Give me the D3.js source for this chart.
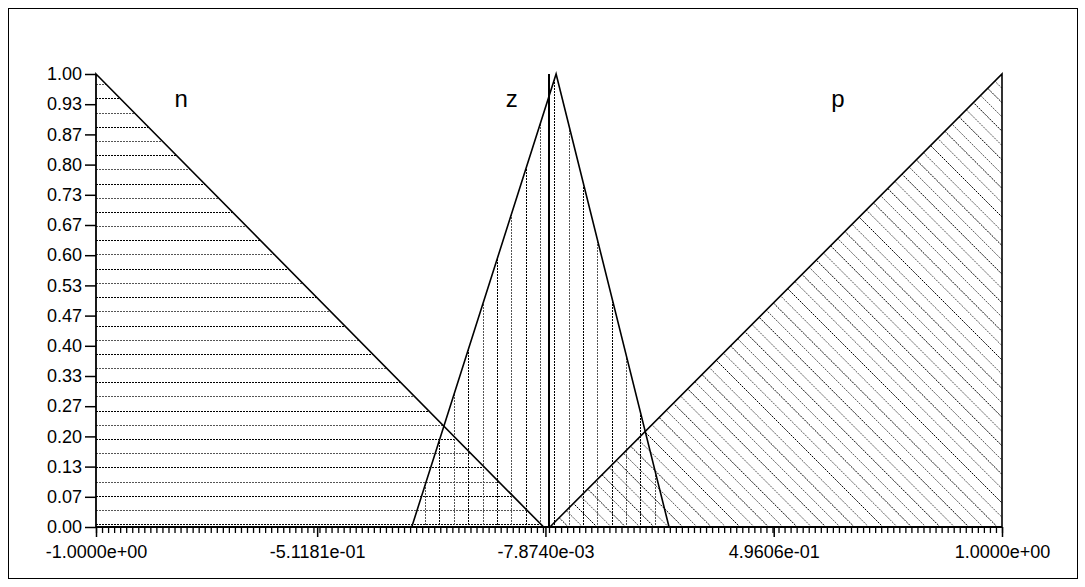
<!DOCTYPE html>
<html>
<head>
<meta charset="utf-8">
<script src="https://cdn.jsdelivr.net/npm/d3@7"></script>
<style>
  body { margin: 0; background: #fff; }
  svg { display: block; }
  text { font-family: "Liberation Sans", Arial, sans-serif; fill: #000; }
</style>
</head>
<body>
<svg id="chart" width="1085" height="587"></svg>
<script>
// membership functions (x, degree)
var nPoints = [[-1, 1], [-0.012, 0]];
var zPoints = [[-0.303, 0], [0.0157, 1], [0.265, 0]];
var pPoints = [[0.002, 0], [1, 1]];
var setNames = ['n', 'z', 'p'];
var setLabelX = [-0.812, -0.082, 0.638];
var setLabelY = 0.927;
var inputValue = 0;

var xTickValues = [-1, -0.51181, -0.007874, 0.49606, 1];
var xTickLabels = ['-1.0000e+00', '-5.1181e-01', '-7.8740e-03', '4.9606e-01', '1.0000e+00'];
var yTickValues = d3.range(0, 16).map(function(i){ return i / 15; });
var yTickLabels = ['0.00','0.07','0.13','0.20','0.27','0.33','0.40','0.47','0.53','0.60','0.67','0.73','0.80','0.87','0.93','1.00'];

var svg = d3.select('#chart');

var x = d3.scaleLinear().domain([-1, 1]).range([96, 1002]);
var y = d3.scaleLinear().domain([0, 1]).range([527, 74]);

// outer frame
svg.append('rect')
    .attr('x', 8.5).attr('y', 8.5)
    .attr('width', 1069).attr('height', 570)
    .attr('fill', 'none').attr('stroke', '#000');

var area = d3.area()
    .x(function(d){ return x(d[0]); })
    .y0(y(0))
    .y1(function(d){ return y(d[1]); });

var shapes = [nPoints, zPoints, pPoints];
var defs = svg.append('defs');
shapes.forEach(function(pts, i){
  defs.append('clipPath').attr('id', 'clip-' + setNames[i])
    .append('path').attr('d', area(pts));
});

function hatchLine(sel){
  sel.attr('fill', 'none')
    .attr('stroke', function(d, i){ return i % 2 ? '#555' : '#000'; })
    .attr('stroke-width', 1)
    .attr('stroke-dasharray', '2,1');
}

// n: horizontal hatch
var gn = svg.append('g').attr('clip-path', 'url(#clip-n)');
gn.selectAll('line').data(d3.range(0, 33)).enter().append('line')
    .attr('x1', 96).attr('x2', 1002)
    .attr('y1', function(k){ return Math.round(524.3 - k * 14.2) + 0.5; })
    .attr('y2', function(k){ return Math.round(524.3 - k * 14.2) + 0.5; })
    .call(hatchLine);

// z: vertical hatch
var gz = svg.append('g').attr('clip-path', 'url(#clip-z)');
gz.selectAll('line').data(d3.range(-12, 13)).enter().append('line')
    .attr('x1', function(k){ return Math.round(554.3 + k * 14.35) + 0.5; })
    .attr('x2', function(k){ return Math.round(554.3 + k * 14.35) + 0.5; })
    .attr('y1', 70).attr('y2', 530)
    .call(hatchLine);

// p: diagonal hatch
var gp = svg.append('g').attr('clip-path', 'url(#clip-p)');
gp.selectAll('line').data(d3.range(-40, 80)).enter().append('line')
    .attr('x1', function(k){ return 1002 - k * 14.3; })
    .attr('y1', 74)
    .attr('x2', function(k){ return 1002 - k * 14.3 + 460; })
    .attr('y2', 534)
    .call(hatchLine);

// outlines
svg.selectAll('path.mf').data(shapes).enter().append('path')
    .attr('class', 'mf')
    .attr('d', function(d){ return area(d); })
    .attr('fill', 'none')
    .attr('stroke', '#000')
    .attr('stroke-width', 1.6);

// input line
svg.append('line')
    .attr('x1', x(inputValue)).attr('x2', x(inputValue))
    .attr('y1', y(0)).attr('y2', y(1))
    .attr('stroke', '#000').attr('stroke-width', 2);

// set labels
svg.selectAll('text.setname').data(setNames).enter().append('text')
    .attr('class', 'setname')
    .attr('x', function(d, i){ return x(setLabelX[i]); })
    .attr('y', y(setLabelY))
    .attr('text-anchor', 'middle')
    .attr('font-size', 24)
    .text(function(d){ return d; });

// x axis: minor ticks
var xAxisMinor = d3.axisBottom(x)
    .tickValues(d3.range(0, 151).map(function(i){ return -1 + i * 2 / 150; }))
    .tickSize(6).tickFormat('');
svg.append('g')
    .attr('transform', 'translate(0,' + y(0) + ')')
    .call(xAxisMinor)
    .call(function(g){ g.select('.domain').remove(); })
    .selectAll('line').attr('stroke', '#000').attr('stroke-width', 1.3);

var xAxis = d3.axisBottom(x)
    .tickValues(xTickValues)
    .tickSize(10)
    .tickPadding(8)
    .tickFormat(function(d, i){ return xTickLabels[i]; });
var gx = svg.append('g')
    .attr('transform', 'translate(0,' + y(0) + ')')
    .call(xAxis);
gx.select('.domain').attr('stroke', '#000').attr('stroke-width', 2).attr('d', 'M96,0H1002');
gx.selectAll('line').attr('stroke-width', 1.5);
gx.selectAll('text').attr('font-size', 18).attr('font-family', '"Liberation Sans", Arial, sans-serif');

var yAxis = d3.axisLeft(y)
    .tickValues(yTickValues)
    .tickSize(11)
    .tickPadding(3)
    .tickFormat(function(d, i){ return yTickLabels[i]; });
var gy = svg.append('g')
    .attr('transform', 'translate(96,0)')
    .call(yAxis);
gy.select('.domain').attr('stroke', '#000').attr('d', 'M0,527V74');
gy.selectAll('line').attr('stroke-width', 1.5);
gy.selectAll('text').attr('font-size', 18).attr('font-family', '"Liberation Sans", Arial, sans-serif');
</script>
</body>
</html>
